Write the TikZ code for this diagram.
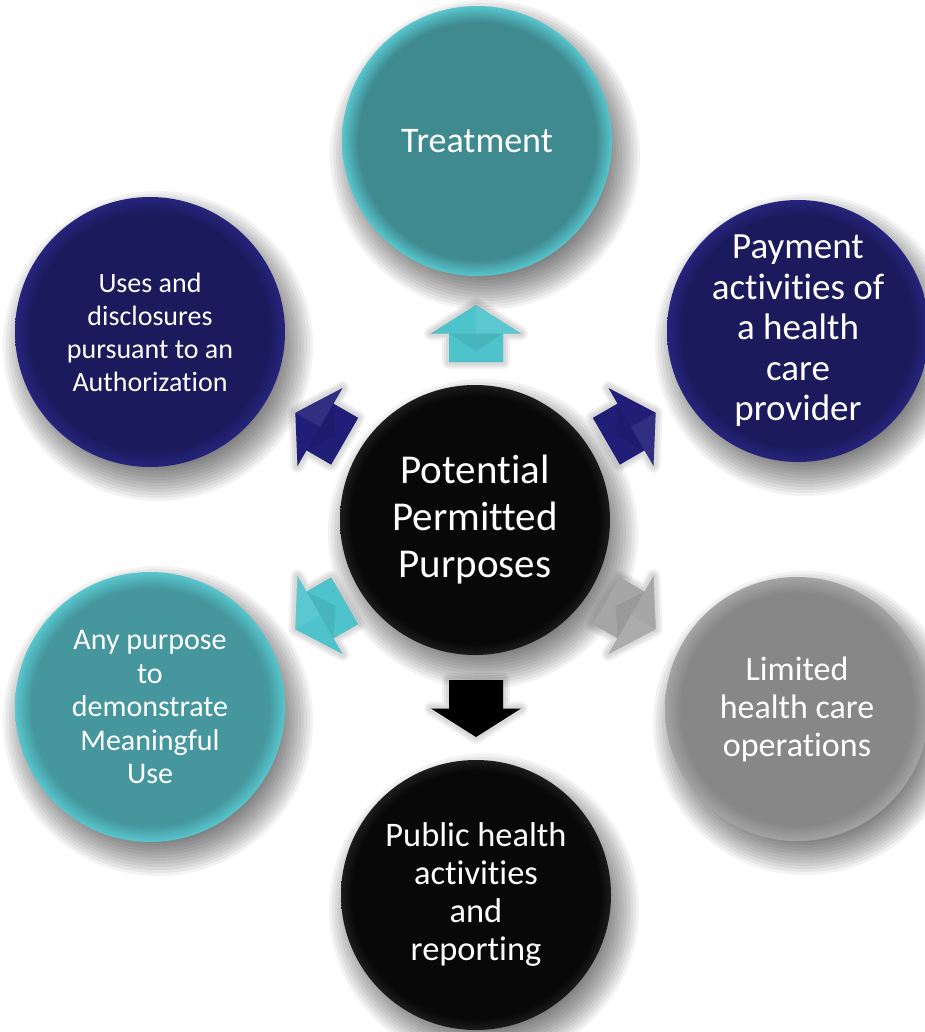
\documentclass[tikz,border=0pt]{standalone}
\usepackage{fontspec}
\setmainfont{Carlito}[RawFeature={-liga;-rlig;-clig;-dlig;-calt}]
\definecolor{tealcore}{HTML}{3F8A8F}
\definecolor{tealrim}{HTML}{58C6CE}
\definecolor{tealcoreb}{HTML}{45979D}
\definecolor{navycore}{HTML}{1B1A5C}
\definecolor{navyrim}{HTML}{26247C}
\definecolor{graycore}{HTML}{878787}
\definecolor{grayrim}{HTML}{A4A4A4}
\definecolor{blackcore}{HTML}{080808}
\definecolor{blackrim}{HTML}{1C1C1C}
\definecolor{arrowteal}{HTML}{4EC3CB}
\definecolor{arrownavy}{HTML}{211E78}
\definecolor{arrowgray}{HTML}{A6A6A6}
\pgfdeclareradialshading{tealball}{\pgfpoint{0bp}{0bp}}{color(0bp)=(tealcore); color(22bp)=(tealcore); color(25bp)=(tealrim); color(50bp)=(tealrim)}
\pgfdeclareradialshading{tealballb}{\pgfpoint{0bp}{0bp}}{color(0bp)=(tealcoreb); color(22bp)=(tealcoreb); color(25bp)=(tealrim); color(50bp)=(tealrim)}
\pgfdeclareradialshading{navyball}{\pgfpoint{0bp}{0bp}}{color(0bp)=(navycore); color(22bp)=(navycore); color(25bp)=(navyrim); color(50bp)=(navyrim)}
\pgfdeclareradialshading{grayball}{\pgfpoint{0bp}{0bp}}{color(0bp)=(graycore); color(22bp)=(graycore); color(25bp)=(grayrim); color(50bp)=(grayrim)}
\pgfdeclareradialshading{blackball}{\pgfpoint{0bp}{0bp}}{color(0bp)=(blackcore); color(23bp)=(blackcore); color(25bp)=(blackrim); color(50bp)=(blackrim)}
\newcommand\circshadow[3]{%
  \foreach \k in {0,...,11}{\fill[black, opacity=0.052] ({#1+8},{#2+14}) circle ({#3+20-\k*3});}}
\tikzset{
  circ/.style={circle, minimum size=270pt, inner sep=0pt, align=center, text=white},
  blockarrow/.pic={
    \foreach \w in {14,10,6}{\path[fill=black, draw=black, line width=\w pt, opacity=0.05, line join=round] (0,-28.5) -- (45,0) -- (27,0) -- (27,28.5) -- (-27,28.5) -- (-27,0) -- (-45,0) -- cycle;}
    \path[pic actions] (0,-28.5) -- (45,0) -- (27,0) -- (27,28.5) -- (-27,28.5) -- (-27,0) -- (-45,0) -- cycle;
    \fill[white, opacity=.08] (0,-28.5) -- (45,0) -- (0,0) -- cycle;
    \fill[black, opacity=.07] (-27,0) -- (27,0) -- (0,18) -- cycle;
  },
  plainarrow/.pic={
    \foreach \w in {14,10,6}{\path[fill=black, draw=black, line width=\w pt, opacity=0.05, line join=round] (0,-28.5) -- (45,0) -- (27,0) -- (27,28.5) -- (-27,28.5) -- (-27,0) -- (-45,0) -- cycle;}
    \path[pic actions] (0,-28.5) -- (45,0) -- (27,0) -- (27,28.5) -- (-27,28.5) -- (-27,0) -- (-45,0) -- cycle;
  }
}
\begin{document}
\begin{tikzpicture}[x=1pt, y=-1pt]
\useasboundingbox[fill=white] (0,0) rectangle (924,1032);
% shadows
\circshadow{477}{141}{135}
\circshadow{150}{332}{135}
\circshadow{798}{331}{131}
\circshadow{150}{707}{135}
\circshadow{797}{709}{132}
\circshadow{476}{895}{135}
\circshadow{475}{520}{135}
% circles
\node[circ, shading=tealball, font=\fontsize{36}{42}\selectfont] (treat) at (477,141) {Treatment};
\node[circ, shading=navyball, font=\fontsize{28}{33}\selectfont] (uses) at (150,332) {Uses and\\disclosures\\pursuant to an\\Authorization};
\node[circ, shading=navyball, minimum size=262pt, font=\fontsize{37}{40.5}\selectfont] (pay) at (798,331) {Payment\\activities of\\a health\\care\\provider};
\node[circ, shading=tealballb, font=\fontsize{30}{33.5}\selectfont] (any) at (150,707) {Any purpose\\to\\demonstrate\\Meaningful\\Use};
\node[circ, shading=grayball, minimum size=264pt, font=\fontsize{34}{38}\selectfont] (lim) at (797,709) {Limited\\health care\\operations};
\node[circ, shading=blackball, font=\fontsize{34.4}{38}\selectfont] (pub) at (476,895) {Public health\\activities\\and\\reporting};
\node[circ, shading=blackball, font=\fontsize{41}{47}\selectfont] (ctr) at (475,520) {Potential\\Permitted\\Purposes};
% block arrows
\pic[fill=arrowteal] (aup) at (476,333.5) {blockarrow};
\pic[fill=arrownavy, rotate=60] (aul) at (320,427) {blockarrow};
\pic[fill=arrownavy, rotate=-60] (aur) at (631,427) {blockarrow};
\pic[fill=arrowteal, rotate=120] (all) at (320,615) {blockarrow};
\pic[fill=arrowgray, rotate=-120] (alr) at (631,615) {blockarrow};
\pic[fill=black, rotate=180] (adn) at (476,708.5) {plainarrow};
\end{tikzpicture}
\end{document}
